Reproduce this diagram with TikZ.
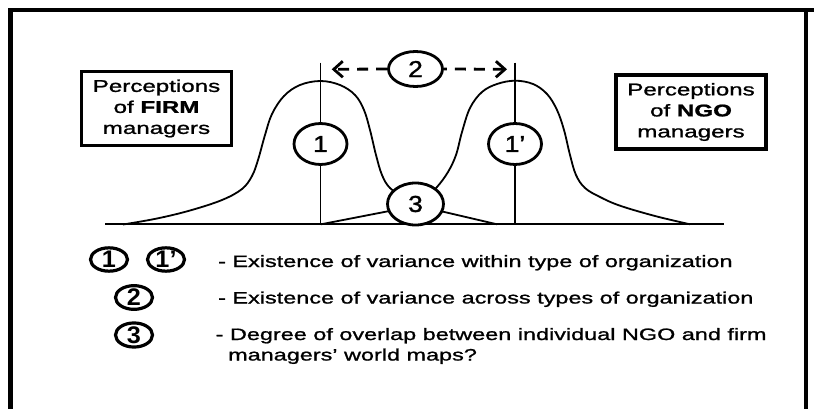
\documentclass[tikz,border=0pt]{standalone}
\usepackage{fontspec}
\setmainfont{Liberation Sans}
\newfontfamily\lab[FakeStretch=1.42,FakeBold=1.2]{Liberation Sans}
\newfontfamily\numf[FakeStretch=1.15,FakeBold=1.5]{Liberation Sans}
\newfontfamily\legf[FakeStretch=1.05]{Liberation Sans Bold}
\usetikzlibrary{arrows.meta,shapes.geometric}
\begin{document}
\begin{tikzpicture}[x=1pt,y=-1pt,
  frame/.style={line width=4.5pt},
  labbox/.style={draw, line width=3.2pt, minimum width=150pt, minimum height=74pt, inner sep=0pt, align=center, font=\lab\fontsize{17}{21}\selectfont},
  bell/.style={line width=1.8pt},
  axisline/.style={line width=2.3pt},
  numc/.style={ellipse, draw, fill=white, line width=2.8pt, inner sep=0pt, font=\numf\fontsize{23}{23}\selectfont},
  legc/.style={ellipse, draw, line width=3.2pt, inner sep=0pt, minimum width=37pt, minimum height=21pt, font=\legf\fontsize{24}{24}\selectfont},
  legt/.style={anchor=base west, inner sep=0pt, font=\lab\fontsize{16.5}{21}\selectfont},
  dasharrow/.style={line width=2.8pt, dash pattern=on 11pt off 8pt, -{Straight Barb[length=9pt,width=16pt]}}
]
\useasboundingbox (0,0) rectangle (814,409);
% frame
\draw[frame] (10.5,409) -- (10.5,10) -- (814,10);
\draw[frame] (806,10) -- (806,409);
% label boxes
\node[labbox] (firm) at (156.5,108.5) {Perceptions\\of \textbf{FIRM}\\managers};
\node[labbox] (ngo) at (691,112) {Perceptions\\of \textbf{NGO}\\managers};
% axis and centre lines
\coordinate (b0) at (105,224.3);
\coordinate (b1) at (724,224.3);
\draw[axisline] (b0) -- (b1);
\coordinate (l1t) at (320.5,62.7);
\coordinate (l1b) at (320.5,224.3);
\coordinate (l2t) at (515,62.7);
\coordinate (l2b) at (515,224.3);
\draw[bell] (l1t) -- (l1b);
\draw[bell] (l2t) -- (l2b);
% left bell
\draw[bell] plot[smooth, tension=0.6] coordinates {(123,224.5) (157,218.5) (190,210.5) (222,200) (242,189) (252,176) (258,160) (265,135) (272,114) (284,96) (300,85) (320.5,81) (340,85) (355,95) (364,110) (370,130) (376,155) (382,175) (390,188) (405,198)};
\coordinate (t1a) at (438,210.5);
\coordinate (t1b) at (497,224.3);
\draw[bell] (t1a) -- (t1b);
% right bell
\coordinate (t2a) at (321,224.3);
\coordinate (t2b) at (392,210.5);
\draw[bell] (t2a) -- (t2b);
\draw[bell] plot[smooth, tension=0.6] coordinates {(425,198) (437,187) (448,172) (456,155) (462,132) (470,108) (482,92) (497,84) (515,80.7) (533,84) (547,94) (557,110) (564,130) (570,155) (576,175) (585,188) (600,197) (620,205.7) (655,216) (690,224.3)};
% numbered ellipses
\node[numc, minimum width=53pt, minimum height=41pt] (c1) at (320.5,144) {1};
\node[numc, minimum width=53pt, minimum height=41pt] (c1p) at (515,144) {1’};
\node[numc, minimum width=54pt, minimum height=35pt] (c2) at (415.5,69) {2};
\node[numc, minimum width=56pt, minimum height=42pt] (c3) at (415.5,204) {3};
% arrows
\coordinate (a2l) at (331.7,69.3);
\coordinate (a2r) at (507,69.3);
\draw[dasharrow] (c2.west) -- (a2l);
\draw[dasharrow, dash phase=8pt] (c2.east) -- (a2r);
% legend
\node[legc] (g1) at (109,259.5) {1};
\node[legc] (g1p) at (166,259.5) {1’};
\node[legc] (g2) at (134,297.5) {2};
\node[legc] (g3) at (134,335) {3};
\node[legt] (r1) at (218,267) {- Existence of variance within type of organization};
\node[legt] (r2) at (218,303.5) {- Existence of variance across types of organization};
\node[legt] (r3) at (215.5,340) {- Degree of overlap between individual NGO and firm};
\node[legt] (r3b) at (228,360.5) {managers’ world maps?};
\end{tikzpicture}
\end{document}
